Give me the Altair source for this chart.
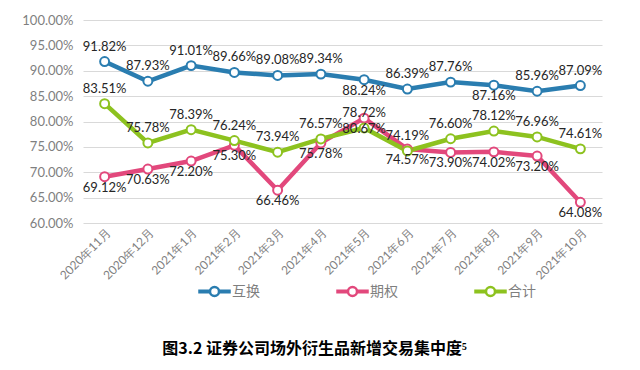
import altair as alt
import pandas as pd

months = ["2020年11月", "2020年12月", "2021年1月", "2021年2月", "2021年3月", "2021年4月",
          "2021年5月", "2021年6月", "2021年7月", "2021年8月", "2021年9月", "2021年10月"]
series_names = ["互换", "期权", "合计"]
swap = [91.82, 87.93, 91.01, 89.66, 89.08, 89.34, 88.24, 86.39, 87.76, 87.16, 85.96, 87.09]
option = [69.12, 70.63, 72.20, 75.30, 66.46, 75.78, 80.67, 74.57, 73.90, 74.02, 73.20, 64.08]
total = [83.51, 75.78, 78.39, 76.24, 73.94, 76.57, 78.72, 74.19, 76.60, 78.12, 76.96, 74.61]
colors = ["#2A7DB0", "#E2487C", "#8DC21F"]
y_ticks = [60, 65, 70, 75, 80, 85, 90, 95, 100]

# which data labels sit under their point
labels_below = {"互换": ["2021年5月", "2021年8月"], "期权": months, "合计": []}

rows = []
for name, vals in zip(series_names, [swap, option, total]):
    for m, v in zip(months, vals):
        rows.append({"month": m, "series": name, "value": v,
                     "below": m in labels_below[name]})
df = pd.DataFrame(rows)

x = alt.X("month:N", sort=months, title=None,
          scale=alt.Scale(type="point", padding=0.5),
          axis=alt.Axis(labelAngle=-45, domain=False, ticks=False, grid=False,
                        labelColor="#7F7F7F", labelFont="Lato", labelFontSize=12,
                        labelPadding=4))
y = alt.Y("value:Q", title=None,
          scale=alt.Scale(domain=[60, 100], nice=False, zero=False),
          axis=alt.Axis(values=y_ticks, labelExpr="format(datum.value, '.2f') + '%'",
                        domain=False, ticks=False, gridColor="#D9D9D9", gridWidth=1.2,
                        labelColor="#7F7F7F", labelFont="Lato", labelFontSize=13,
                        labelPadding=10))

legend_path = ("M-1,-0.05H-0.36V0.05H-1Z M0.36,-0.05H1V0.05H0.36Z "
               "M0.3,0A0.3,0.3 0 1,1 -0.3,0A0.3,0.3 0 1,1 0.3,0Z")
color = alt.Color("series:N", sort=series_names, title=None,
                  scale=alt.Scale(domain=series_names, range=colors),
                  legend=alt.Legend(orient="none", direction="horizontal",
                                    legendX=115, legendY=255,
                                    symbolType=legend_path, symbolSize=900,
                                    symbolStrokeWidth=2.5, symbolFillColor="white",
                                    labelFont="Noto Sans CJK SC", labelFontSize=14,
                                    labelColor="#7F7F7F", columnPadding=72,
                                    labelOffset=1))

base = alt.Chart(df)

lines = base.mark_line(strokeWidth=4.5).encode(x=x, y=y, color=color)
points = base.mark_point(shape="circle", filled=False, fill="white", fillOpacity=1,
                         size=80, strokeWidth=2, opacity=1).encode(
    x=x, y=y, stroke=alt.Stroke("series:N", scale=alt.Scale(domain=series_names, range=colors), legend=None))

text_base = base.transform_calculate(label="format(datum.value, '.2f') + '%'")
above = text_base.transform_filter("!datum.below").mark_text(
    font="Lato", fontSize=13, color="#262626", baseline="bottom", dy=-8).encode(
    x=x, y=y, text="label:N")
below = text_base.transform_filter("datum.below").mark_text(
    font="Lato", fontSize=13, color="#262626", baseline="top", dy=5).encode(
    x=x, y=y, text="label:N")

chart = alt.layer(lines, points, above, below).properties(
    width=519, height=203,
    padding={"left": 13, "top": 6, "right": 20, "bottom": 5},
    title=alt.TitleParams("图3.2 证券公司场外衍生品新增交易集中度⁵", orient="bottom",
                          font="Noto Sans CJK SC", fontSize=16, fontWeight="bold",
                          color="#000000", anchor="middle", offset=40, dx=-28),
).configure_view(stroke=None)

chart.save("out.html", embed_options={"renderer": "svg", "actions": False})
